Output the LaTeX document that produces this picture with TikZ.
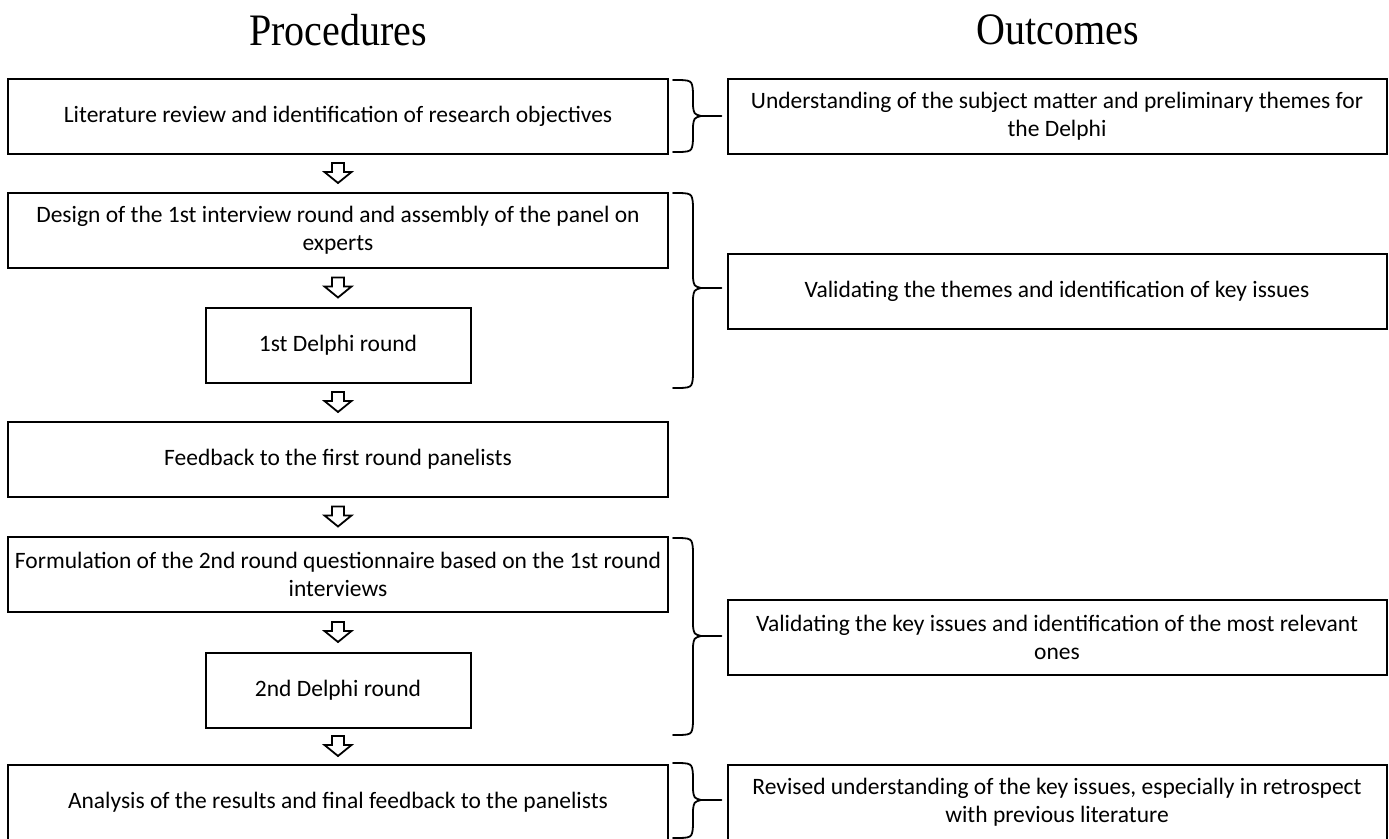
\documentclass[tikz,border=0pt]{standalone}
\usepackage{fontspec}
\setmainfont{Carlito}
\newfontfamily\headfont{Liberation Serif}[FakeStretch=0.89]
\usetikzlibrary{calc}

\tikzset{
  headtext/.style={font=\headfont\fontsize{45}{50}\selectfont},
  procbox/.style={draw, line width=2pt, minimum height=75pt, align=center,
    inner sep=0pt, font=\fontsize{23.5}{28}\selectfont},
  widebox/.style={procbox, minimum width=660pt},
  smallbox/.style={procbox, minimum width=265pt},
  outbox/.style={procbox, minimum width=659pt},
  downarrow/.pic={\draw[line width=1.8pt, line join=miter]
    (-6,-10) -- (6,-10) -- (6,-1) -- (13.5,-1) -- (0,10)
    -- (-13.5,-1) -- (-6,-1) -- cycle;},
  bracestroke/.style={line width=1.8pt, line cap=round},
}

\newcommand\curly[4]{%
  \draw[bracestroke] (673,#1) .. controls (692,#1) .. (693,#1+12)
    -- (693,#3-10) .. controls (694,#3-2) .. (701,#3)
    .. controls (694,#3+2) .. (693,#3+10)
    -- (693,#2-12) .. controls (692,#2) .. (673,#2);
  \coordinate (#4) at (701,#3);}

\begin{document}
\begin{tikzpicture}[x=1pt,y=-1pt]
      \useasboundingbox (0,0) rectangle (1389,838);
      \clip (0,0) rectangle (1389,838);
      \draw
        (338,30) node[headtext] (ph){Procedures}
        (1058,30) node[headtext] (oh){Outcomes}
        (338,116) node[widebox] (b1){Literature review and identification of research objectives}
        (338,230) node[widebox] (b2){Design of the 1st interview round and assembly of the panel on\\experts}
        (338,345) node[smallbox] (b3){1st Delphi round}
        (338,459) node[widebox] (b4){Feedback to the first round panelists}
        (338,574) node[widebox] (b5){Formulation of the 2nd round questionnaire based on the 1st round\\interviews}
        (338,690) node[smallbox] (b6){2nd Delphi round}
        (338,802) node[widebox] (b7){Analysis of the results and final feedback to the panelists}
        (1057,116) node[outbox] (o1){Understanding of the subject matter and preliminary themes for\\the Delphi}
        (1057,291) node[outbox] (o2){Validating the themes and identification of key issues}
        (1057,637) node[outbox] (o3){Validating the key issues and identification of the most relevant\\ones}
        (1057,802) node[outbox] (o4){Revised understanding of the key issues, especially in retrospect\\with previous literature};
      \pic at ($(b1.south)!0.5!(b2.north)$) {downarrow};
      \pic at ($(b2.south)!0.5!(b3.north)$) {downarrow};
      \pic at ($(b3.south)!0.5!(b4.north)$) {downarrow};
      \pic at ($(b4.south)!0.5!(b5.north)$) {downarrow};
      \pic at ($(b5.south)!0.5!(b6.north)$) {downarrow};
      \pic at ($(b6.south)!0.5!(b7.north)$) {downarrow};
      \curly{80}{152}{116}{t1}
      \curly{193}{388}{288}{t2}
      \curly{538}{735}{636}{t3}
      \curly{763}{838}{800}{t4}
      \begin{scope}[bracestroke, shorten >=5pt]
        \draw (t1) to (t1 -| o1.west);
        \draw (t2) to (t2 -| o2.west);
        \draw (t3) to (t3 -| o3.west);
        \draw (t4) to (t4 -| o4.west);
      \end{scope}
    \end{tikzpicture}
\end{document}
